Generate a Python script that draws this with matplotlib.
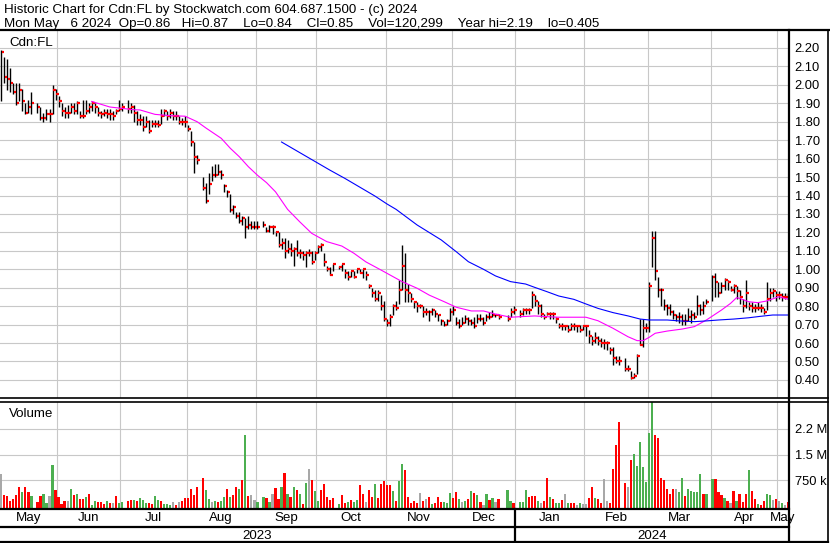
import numpy as np
import pandas as pd
import matplotlib
matplotlib.use("Agg")
import matplotlib.pyplot as plt
from matplotlib.transforms import blended_transform_factory

plt.rcParams['font.family'] = ['Liberation Sans', 'DejaVu Sans']

# trading days, exchange holidays removed
holidays = ['2023-05-22', '2023-07-03', '2023-08-07', '2023-09-04', '2023-10-09',
            '2023-12-25', '2023-12-26', '2024-01-01', '2024-02-19', '2024-03-29']
days = pd.bdate_range('2023-05-05', '2024-05-06')
days = days[~days.isin(pd.to_datetime(holidays))]

high = [2.19, 2.15, 2.14, 2.09, 2.01, 2.01, 2.01, 1.98, 1.90, 1.92, 1.96, 1.90, 1.88, 1.85, 1.87, 1.87, 2.00, 1.98,
        1.94, 1.90, 1.88, 1.89, 1.90, 1.90, 1.91, 1.86, 1.92, 1.92, 1.90, 1.91, 1.90, 1.88, 1.86, 1.87, 1.87, 1.87, 1.86, 1.87, 1.92, 1.90,
        1.92, 1.90, 1.89, 1.86, 1.84, 1.83, 1.83, 1.81, 1.81, 1.81, 1.81, 1.87, 1.87, 1.86, 1.87, 1.86, 1.86, 1.83, 1.82, 1.83,
        1.78, 1.75, 1.69, 1.62, 1.50, 1.47, 1.52, 1.56, 1.57, 1.57, 1.54, 1.46, 1.43, 1.41, 1.35, 1.31, 1.31, 1.29, 1.28, 1.29, 1.26, 1.26,
        1.26, 1.26, 1.23, 1.24, 1.24, 1.21, 1.20, 1.17, 1.17, 1.16, 1.14, 1.12, 1.16, 1.11, 1.10, 1.10, 1.11, 1.10, 1.10, 1.13,
        1.14, 1.09, 1.02, 1.01, 1.03, 1.02, 1.03, 1.00, 0.99, 0.99, 0.99, 1.00, 1.00, 1.00, 0.99, 0.92, 0.90, 0.89, 0.89, 0.86, 0.83,
        0.73, 0.76, 0.81, 0.83, 0.94, 1.13, 1.09, 0.92, 0.87, 0.83, 0.82, 0.81, 0.80, 0.79, 0.78, 0.79, 0.78, 0.76, 0.73, 0.72, 0.73, 0.79,
        0.80, 0.74, 0.73, 0.74, 0.75, 0.74, 0.73, 0.74, 0.76, 0.76, 0.74, 0.76, 0.77, 0.78, 0.76, 0.76, 0.75, 0.79, 0.80,
        0.78, 0.79, 0.79, 0.79, 0.88, 0.86, 0.83, 0.81, 0.76, 0.77, 0.77, 0.77, 0.74, 0.71, 0.71, 0.70, 0.70, 0.71, 0.71, 0.70, 0.70, 0.70,
        0.70, 0.67, 0.64, 0.66, 0.64, 0.63, 0.62, 0.61, 0.58, 0.58, 0.53, 0.53, 0.52, 0.48, 0.45, 0.44, 0.54, 0.73, 0.73, 0.71,
        0.93, 1.21, 1.21, 0.96, 0.90, 0.84, 0.81, 0.81, 0.78, 0.76, 0.77, 0.76, 0.76, 0.79, 0.78, 0.77, 0.86, 0.81, 0.83, 0.84,
        0.97, 0.98, 0.93, 0.93, 0.95, 0.94, 0.91, 0.92, 0.91, 0.89, 0.84, 0.94, 0.82, 0.82, 0.81, 0.82, 0.81, 0.79, 0.93, 0.90, 0.90, 0.88,
        0.88, 0.87, 0.87, 0.87]
low = [1.91, 2.01, 1.97, 1.96, 1.95, 1.89, 1.91, 1.86, 1.84, 1.85, 1.84, 1.85, 1.81, 1.80, 1.81, 1.80, 1.84, 1.92,
       1.88, 1.83, 1.82, 1.82, 1.85, 1.84, 1.84, 1.82, 1.82, 1.84, 1.85, 1.86, 1.85, 1.83, 1.82, 1.83, 1.82, 1.81, 1.81, 1.84, 1.86, 1.86,
       1.85, 1.85, 1.80, 1.78, 1.78, 1.75, 1.77, 1.74, 1.77, 1.77, 1.77, 1.79, 1.83, 1.81, 1.82, 1.81, 1.81, 1.79, 1.78, 1.77,
       1.75, 1.67, 1.52, 1.57, 1.43, 1.36, 1.41, 1.48, 1.50, 1.51, 1.49, 1.42, 1.39, 1.31, 1.30, 1.28, 1.25, 1.24, 1.17, 1.22, 1.22, 1.22,
       1.22, 1.23, 1.20, 1.20, 1.19, 1.18, 1.12, 1.11, 1.06, 1.09, 1.07, 1.02, 1.07, 1.06, 1.05, 1.01, 1.07, 1.03, 1.05, 1.09,
       1.10, 1.02, 0.99, 0.97, 0.99, 1.00, 0.99, 0.95, 0.94, 0.96, 0.95, 0.98, 0.98, 0.95, 0.94, 0.90, 0.85, 0.83, 0.83, 0.78, 0.72,
       0.69, 0.69, 0.75, 0.78, 0.81, 0.89, 0.82, 0.82, 0.82, 0.79, 0.77, 0.79, 0.74, 0.75, 0.72, 0.75, 0.74, 0.72, 0.70, 0.69, 0.70, 0.72,
       0.75, 0.70, 0.68, 0.70, 0.71, 0.70, 0.70, 0.68, 0.71, 0.72, 0.70, 0.72, 0.73, 0.74, 0.74, 0.73, 0.72, 0.74, 0.76,
       0.74, 0.75, 0.76, 0.76, 0.79, 0.80, 0.76, 0.74, 0.73, 0.75, 0.73, 0.73, 0.71, 0.68, 0.67, 0.67, 0.66, 0.67, 0.67, 0.66, 0.66, 0.67,
       0.64, 0.60, 0.59, 0.60, 0.59, 0.58, 0.57, 0.56, 0.54, 0.48, 0.49, 0.48, 0.45, 0.45, 0.405, 0.41, 0.43, 0.59, 0.58, 0.66,
       0.66, 1.01, 0.94, 0.85, 0.80, 0.78, 0.75, 0.75, 0.73, 0.72, 0.71, 0.70, 0.70, 0.72, 0.71, 0.73, 0.75, 0.75, 0.76, 0.81,
       0.83, 0.85, 0.85, 0.87, 0.89, 0.89, 0.88, 0.87, 0.84, 0.81, 0.77, 0.79, 0.78, 0.77, 0.77, 0.78, 0.77, 0.76, 0.78, 0.83, 0.85, 0.83,
       0.84, 0.83, 0.84, 0.84]
close = [2.18, 2.04, 2.03, 2.01, 1.96, 1.90, 1.97, 1.91, 1.85, 1.88, 1.90, 1.88, 1.82, 1.82, 1.84, 1.84, 1.97, 1.95,
         1.91, 1.86, 1.85, 1.85, 1.88, 1.86, 1.90, 1.83, 1.83, 1.86, 1.88, 1.90, 1.88, 1.85, 1.84, 1.85, 1.84, 1.84, 1.83, 1.86, 1.87, 1.88,
         1.87, 1.88, 1.85, 1.81, 1.81, 1.77, 1.80, 1.75, 1.79, 1.79, 1.78, 1.83, 1.86, 1.83, 1.85, 1.83, 1.83, 1.80, 1.80, 1.80,
         1.76, 1.69, 1.61, 1.59, 1.44, 1.37, 1.46, 1.51, 1.51, 1.53, 1.51, 1.45, 1.42, 1.32, 1.34, 1.29, 1.26, 1.28, 1.23, 1.24, 1.23, 1.23,
         1.23, 1.24, 1.21, 1.23, 1.23, 1.20, 1.13, 1.14, 1.10, 1.11, 1.10, 1.11, 1.09, 1.09, 1.08, 1.09, 1.09, 1.04, 1.09, 1.12,
         1.13, 1.04, 1.00, 0.97, 1.03, 1.01, 1.03, 0.98, 0.96, 0.99, 0.96, 1.00, 0.98, 1.00, 0.97, 0.91, 0.87, 0.84, 0.87, 0.80, 0.73,
         0.71, 0.74, 0.80, 0.79, 0.89, 1.02, 0.89, 0.87, 0.84, 0.82, 0.80, 0.80, 0.77, 0.77, 0.77, 0.78, 0.76, 0.75, 0.72, 0.70, 0.72, 0.77,
         0.78, 0.71, 0.69, 0.71, 0.73, 0.72, 0.71, 0.69, 0.73, 0.73, 0.71, 0.74, 0.74, 0.75, 0.75, 0.74, 0.73, 0.77, 0.78,
         0.76, 0.78, 0.78, 0.78, 0.86, 0.83, 0.80, 0.76, 0.74, 0.76, 0.76, 0.76, 0.73, 0.69, 0.69, 0.69, 0.67, 0.69, 0.69, 0.69, 0.67, 0.69,
         0.69, 0.64, 0.61, 0.63, 0.61, 0.60, 0.60, 0.60, 0.56, 0.52, 0.50, 0.50, 0.46, 0.46, 0.41, 0.42, 0.53, 0.59, 0.68, 0.68,
         0.91, 1.17, 0.99, 0.89, 0.89, 0.80, 0.79, 0.77, 0.75, 0.74, 0.74, 0.72, 0.72, 0.74, 0.75, 0.74, 0.80, 0.78, 0.80, 0.82,
         0.96, 0.93, 0.87, 0.91, 0.94, 0.93, 0.89, 0.91, 0.88, 0.85, 0.80, 0.87, 0.80, 0.79, 0.79, 0.79, 0.79, 0.77, 0.84, 0.87, 0.88, 0.86,
         0.86, 0.85, 0.85, 0.85]

# daily volume, thousands of shares
volume = [922, 317, 288, 154, 211, 317, 557, 413, 557, 413, 288, 125, 288, 365, 96, 288, 1181, 461,
          269, 58, 144, 144, 490, 317, 365, 202, 192, 250, 346, 20, 144, 106, 106, 58, 144, 77, 77, 288, 77, 120,
          154, 173, 173, 144, 221, 173, 96, 96, 58, 288, 173, 144, 58, 58, 30, 106, 30, 125, 144, 221,
          221, 490, 317, 547, 806, 461, 211, 125, 144, 125, 144, 250, 490, 269, 317, 547, 509, 749, 2074, 288, 317, 173,
          120, 269, 240, 106, 346, 528, 211, 547, 960, 346, 250, 547, 480, 346, 58, 662, 1085, 749, 442, 154,
          480, 653, 269, 173, 240, 58, 317, 77, 125, 173, 125, 173, 605, 346, 125, 461, 269, 634, 240, 653, 730,
          624, 605, 442, 144, 730, 1210, 1037, 250, 77, 144, 77, 394, 144, 211, 250, 58, 96, 250, 125, 106, 77, 394,
          240, 403, 202, 125, 144, 202, 432, 394, 317, 125, 30, 365, 173, 221, 125, 202, 461, 144, 77,
          106, 106, 461, 269, 288, 288, 144, 96, 144, 826, 250, 192, 96, 96, 173, 346, 77, 77, 77, 20, 77, 60,
          60, 221, 557, 221, 202, 96, 797, 144, 77, 1066, 1786, 2448, 672, 557, 1354, 1517, 1152, 1853, 1133, 701,
          2141, 3200, 2083, 1987, 826, 768, 509, 346, 509, 490, 413, 826, 298, 509, 442, 422, 413, 922, 365, 346,
          778, 778, 413, 336, 221, 144, 96, 432, 144, 365, 106, 365, 1037, 442, 202, 58, 30, 144, 365, 317, 173, 202,
          144, 77, 30, 120]
# bar colour per day: g = up, r = down, n = unchanged
vol_dir = ("nrrrrrrgrrgrrggngr" "rrrngrgrrgrggrrrgrnrgg" "rrgrgggrrggrgggnrnrr"
           "rrrrrggngrggrgrrgrgrnn" "ggrgnrrgrgrgrgrgnrgg" "rrrrrgrrgrggrrnrrgrrr"
           "rrgrggrrrrrnrnrgrrrggg" "rrgngrgrgrngrgnrggr" "gggrrrgnrrgrggrngrrngn"
           "nrrgrrnnrrrrrnrggggg" "ggrrrrrrrnggrgggggrg" "grrrgrnrgrrrgrrgrrggnr" "ngnr")

# moving averages as drawn on the chart
ma_short_dates = ['2023-06-16', '2023-06-26', '2023-07-06', '2023-07-10', '2023-07-17', '2023-07-24',
                  '2023-07-31', '2023-08-04', '2023-08-09', '2023-08-16', '2023-08-21', '2023-08-24',
                  '2023-08-29', '2023-09-01', '2023-09-06', '2023-09-11', '2023-09-15', '2023-09-21',
                  '2023-09-27', '2023-10-04', '2023-10-11', '2023-10-17', '2023-10-23', '2023-10-30',
                  '2023-11-06', '2023-11-08', '2023-11-15', '2023-11-21', '2023-11-28', '2023-12-04',
                  '2023-12-11', '2023-12-15', '2023-12-21', '2023-12-28', '2024-01-09', '2024-01-15',
                  '2024-01-19', '2024-01-26', '2024-02-01', '2024-02-07', '2024-02-14', '2024-02-21',
                  '2024-02-26', '2024-02-28', '2024-03-01', '2024-03-05', '2024-03-11', '2024-03-18',
                  '2024-03-22', '2024-03-28', '2024-04-04', '2024-04-09', '2024-04-11', '2024-04-12',
                  '2024-04-17', '2024-04-22', '2024-04-25', '2024-05-01', '2024-05-06']
ma_short = [1.91, 1.88, 1.865, 1.864, 1.84, 1.833, 1.83, 1.80, 1.765, 1.71, 1.656, 1.61,
            1.556, 1.51, 1.47, 1.42, 1.325, 1.258, 1.195, 1.15, 1.126, 1.087, 1.04, 0.996,
            0.951, 0.933, 0.897, 0.86, 0.824, 0.794, 0.774, 0.774, 0.757, 0.74, 0.747, 0.743,
            0.74, 0.74, 0.74, 0.721, 0.68, 0.634, 0.613, 0.613, 0.631, 0.653, 0.665, 0.676,
            0.689, 0.725, 0.779, 0.815, 0.846, 0.842, 0.824, 0.819, 0.828, 0.851, 0.838]
ma_long_dates = ['2023-09-13', '2023-10-05', '2023-10-12', '2023-10-19', '2023-10-26', '2023-11-01',
                 '2023-11-06', '2023-11-15', '2023-11-27', '2023-12-04', '2023-12-08', '2023-12-15',
                 '2023-12-21', '2023-12-28', '2024-01-04', '2024-01-09', '2024-01-15', '2024-01-19',
                 '2024-01-26', '2024-02-01', '2024-02-07', '2024-02-14', '2024-02-21', '2024-02-27',
                 '2024-03-01', '2024-03-11', '2024-03-15', '2024-03-22', '2024-03-28', '2024-04-03',
                 '2024-04-10', '2024-04-17', '2024-04-23', '2024-04-29', '2024-05-06']
ma_long = [1.69, 1.538, 1.493, 1.445, 1.397, 1.354, 1.325, 1.24, 1.159, 1.095, 1.041, 1.0,
           0.964, 0.933, 0.92, 0.902, 0.879, 0.855, 0.837, 0.812, 0.788, 0.765, 0.747, 0.730,
           0.725, 0.725, 0.72, 0.716, 0.72, 0.725, 0.73, 0.737, 0.745, 0.752, 0.752]

header1 = "Historic Chart for Cdn:FL by Stockwatch.com 604.687.1500 - (c) 2024"
header2 = ("Mon May   6 2024  Op=0.86   Hi=0.87    Lo=0.84    Cl=0.85    Vol=120,299    "
           "Year hi=2.19    lo=0.405")

# x position = weekday count from the first day (holidays keep their slot)
t0 = np.datetime64('2023-05-05')
def xpos(d):
    return np.busday_count(t0, np.array(d, dtype='datetime64[D]'))

x = xpos(days.values.astype('datetime64[D]'))

# month boundaries
month_firsts = pd.date_range('2023-05-01', '2024-05-01', freq='MS')
month_x = []
for m in month_firsts[1:]:
    first = np.busday_offset(np.datetime64(m.date()), 0, roll='forward')
    p = np.busday_count(t0, first) - 0.5
    if m.weekday() >= 5:
        p -= 1
    month_x.append(p)

W, H = 830, 543
fig = plt.figure(figsize=(W / 100, H / 100), dpi=100)

def box(x0, y0, x1, y1):
    return [x0 / W, 1 - y1 / H, (x1 - x0) / W, (y1 - y0) / H]

XL = (-0.43, 261.4)
grid_c = '#c8c8c8'
ax = fig.add_axes(box(0, 31, 789, 398))
axv = fig.add_axes(box(0, 402, 789, 509))
for a in (ax, axv):
    a.set_xlim(*XL)
    a.set_xticks(month_x)
    a.tick_params(axis='x', length=0, labelbottom=False)
    a.yaxis.tick_right()
    a.tick_params(axis='y', length=0, pad=4, labelsize=9.3)
    a.grid(True, color=grid_c, lw=0.8)
    a.set_axisbelow(True)
    for s in ('left', 'right', 'top'):
        a.spines[s].set_visible(False)
ax.spines['bottom'].set_linewidth(1.2)
axv.spines['top'].set_visible(True)
axv.spines['top'].set_linewidth(1.2)
axv.spines['bottom'].set_linewidth(1.6)

# price bars: high-low line with red close tick
ax.vlines(x, low, high, color='black', lw=1.0)
ax.hlines(close, x + 0.1, x + 1.0, color='#ff0000', lw=1.6)
ax.plot(xpos(ma_short_dates), ma_short, color='#ff00ff', lw=0.8)
ax.plot(xpos(ma_long_dates), ma_long, color='#0000ff', lw=0.8)
ax.set_ylim(0.302, 2.292)
pt = np.round(np.arange(0.4, 2.21, 0.1), 2)
ax.set_yticks(pt)
ax.set_yticklabels([f"{v:.2f}" for v in pt])
ax.text(9 / 789, 0.958, "Cdn:FL", transform=ax.transAxes, fontsize=9.6, va='baseline')

# volume
vol_floor = -86
cmap = {'g': '#4caf50', 'r': '#ff0000', 'n': '#a8a8a8'}
axv.bar(x, np.array(volume) - vol_floor, bottom=vol_floor, width=0.72,
        color=[cmap[c] for c in vol_dir])
axv.set_ylim(vol_floor, 3030)
axv.set_yticks([750, 1500, 2250])
axv.set_yticklabels(['750 k', '1.5 M', '2.2 M'])
axv.text(9 / 789, 0.86, "Volume", transform=axv.transAxes, fontsize=9.6, va='baseline')

# month / year labels under the volume panel
tr = blended_transform_factory(axv.transData, axv.transAxes)
edges = [XL[0]] + month_x + [XL[1]]
for i, m in enumerate(month_firsts):
    axv.text((edges[i] + edges[i + 1]) / 2, -0.112, m.strftime('%b'), transform=tr,
             ha='center', va='baseline', fontsize=9.6, clip_on=False)
jan_x = month_x[7]
axv.text((XL[0] + jan_x) / 2, -0.28, "2023", transform=tr, ha='center', va='baseline', fontsize=9.6)
axv.text((jan_x + XL[1]) / 2, -0.28, "2024", transform=tr, ha='center', va='baseline', fontsize=9.6)
axv.plot([jan_x, jan_x], [0, -0.31], transform=tr, color='black', lw=1.6, clip_on=False)

# frame lines and header
ov = fig.add_axes([0, 0, 1, 1], zorder=10)
ov.set_xlim(0, W)
ov.set_ylim(H, 0)
ov.axis('off')
ov.plot([0, W], [30, 30], color='black', lw=1.6)
ov.plot([789, 828], [398, 398], color='black', lw=1.2)
ov.plot([789, 828], [402, 402], color='black', lw=1.2)
ov.plot([789, 789], [30, H], color='black', lw=1.6)
ov.plot([828, 828], [30, H], color='black', lw=1.2)
ov.plot([0, 789], [527, 527], color='black', lw=1.6)
ov.plot([0, 828], [541.5, 541.5], color='black', lw=1.6)
ov.text(4, 13, header1, fontsize=9.6, va='baseline')
ov.text(4, 27, header2, fontsize=9.6, va='baseline')

fig.savefig('out.png', dpi=100)
